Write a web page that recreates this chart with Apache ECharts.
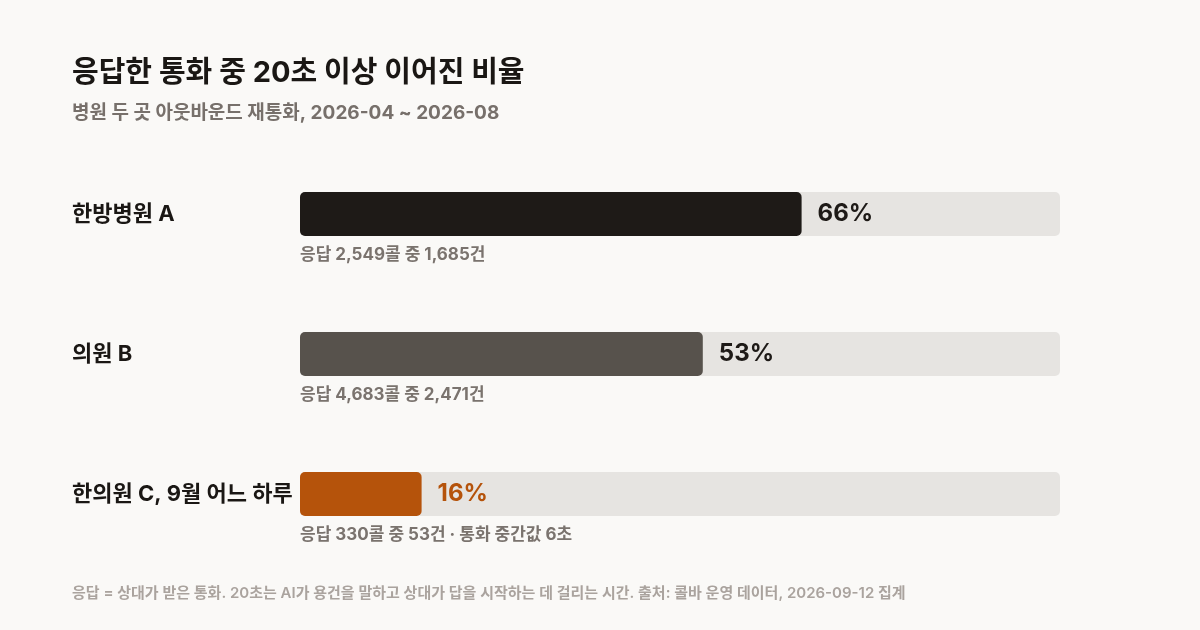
<!DOCTYPE html>
<html>
<head>
<meta charset="utf-8">
<script src="https://cdn.jsdelivr.net/npm/echarts@6/dist/echarts.min.js"></script>
<style>
  html, body { margin: 0; padding: 0; background: #faf9f7; }
  #chart { width: 1200px; height: 630px; }
</style>
</head>
<body>
<div id="chart"></div>
<script>
// 20초 이상 이어진 비율 (%)
var categories = ['한방병원 A', '의원 B', '한의원 C, 9월 어느 하루'];
var rates = [66, 53, 16];
var answered = [2549, 4683, 330];
var over20 = [1685, 2471, 53];
var extras = ['', '', '통화 중간값 6초'];
var barColors = ['#1e1a17', '#57524c', '#b5530b'];
var labelColors = ['#1e1a17', '#1e1a17', '#b5530b'];

var font = "Inter, 'Noto Sans CJK KR', sans-serif";

function fmt(n) {
  return n.toLocaleString('en-US');
}

var notes = categories.map(function (c, i) {
  var s = '응답 ' + fmt(answered[i]) + '콜 중 ' + fmt(over20[i]) + '건';
  if (extras[i]) s += ' · ' + extras[i];
  return s;
});

var chart = echarts.init(document.getElementById('chart'));

chart.setOption({
  backgroundColor: '#faf9f7',
  animation: false,
  title: [{
    text: '응답한 통화 중 20초 이상 이어진 비율',
    subtext: '병원 두 곳 아웃바운드 재통화, 2026-04 ~ 2026-08',
    left: 72,
    top: 56,
    padding: 0,
    itemGap: 11,
    textStyle: { fontFamily: font, fontSize: 29, fontWeight: 'bold', color: '#1a1714', lineHeight: 34 },
    subtextStyle: { fontFamily: font, fontSize: 19, fontWeight: 'bold', color: '#77706b', lineHeight: 24 }
  }, {
    text: '응답 = 상대가 받은 통화. 20초는 AI가 용건을 말하고 상대가 답을 시작하는 데 걸리는 시간. 출처: 콜바 운영 데이터, 2026-09-12 집계',
    left: 72,
    top: 584,
    padding: 0,
    textStyle: { fontFamily: font, fontSize: 15, fontWeight: 600, color: '#aaa39e', lineHeight: 18 }
  }],
  grid: { left: 300, right: 140, top: 144, bottom: 66 },
  xAxis: {
    type: 'value', min: 0, max: 100,
    show: false
  },
  yAxis: {
    type: 'category',
    data: categories,
    inverse: true,
    axisLine: { show: false },
    axisTick: { show: false },
    axisLabel: {
      align: 'left',
      margin: 228,
      fontFamily: font,
      fontSize: 22,
      fontWeight: 'bold',
      color: '#1a1714',
      padding: [0, 0, 4, 0]
    }
  },
  series: [{
    // track
    type: 'bar',
    data: categories.map(function () { return 100; }),
    barWidth: 44,
    silent: true,
    itemStyle: { color: '#e6e4e1', borderRadius: 5 },
    label: {
      show: true,
      position: [0, 63],
      align: 'left',
      verticalAlign: 'middle',
      fontFamily: font,
      fontSize: 17,
      fontWeight: 'bold',
      color: '#7a736e',
      formatter: function (p) { return notes[p.dataIndex]; }
    },
    z: 1
  }, {
    type: 'bar',
    barWidth: 44,
    barGap: '-100%',
    data: rates.map(function (v, i) {
      return {
        value: v,
        itemStyle: { color: barColors[i] },
        label: { color: labelColors[i] }
      };
    }),
    itemStyle: { borderRadius: 5 },
    label: {
      show: true,
      position: 'right',
      distance: 16,
      fontFamily: font,
      fontSize: 24,
      fontWeight: 'bold',
      formatter: '{c}%'
    },
    z: 2
  }]
});
</script>
</body>
</html>
